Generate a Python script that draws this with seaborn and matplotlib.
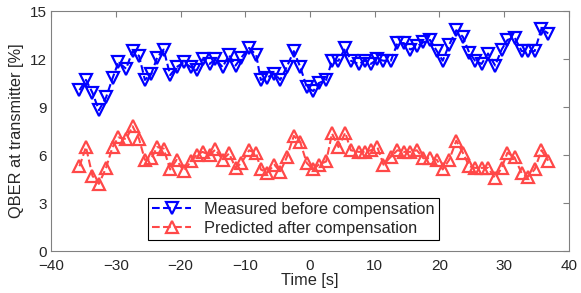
import numpy as np
import pandas as pd
import matplotlib
matplotlib.use("Agg")
import matplotlib.pyplot as plt
import seaborn as sns

# time stamps shared by both series [s]
time_s = [-35.6, -34.6, -33.6, -32.6, -31.5, -30.5, -29.6, -28.4, -27.4, -26.4,
          -25.5, -24.5, -23.6, -22.6, -21.6, -20.6, -19.5, -18.4, -17.5, -16.6,
          -15.5, -14.6, -13.5, -12.5, -11.5, -10.6, -9.4, -8.3, -7.6, -6.6,
          -5.5, -4.6, -3.6, -2.5, -1.5, -0.5, 0.5, 1.35, 2.5, 3.4,
          4.4, 5.45, 6.3, 7.5, 8.5, 9.4, 10.4, 11.35, 12.5, 13.5,
          14.5, 15.5, 16.5, 17.5, 18.55, 19.6, 20.5, 21.5, 22.6, 23.6,
          24.6, 25.5, 26.5, 27.5, 28.6, 29.6, 30.5, 31.6, 32.7, 33.7,
          34.7, 35.75, 36.8]

# QBER measured before compensation [%]
measured = [10.06, 10.7, 9.9, 8.8, 9.6, 10.8, 11.8, 11.4, 12.5, 12.2,
            10.7, 11.1, 12.1, 12.6, 11.0, 11.5, 11.8, 11.5, 11.3, 12.0,
            11.7, 12.0, 11.5, 12.25, 11.6, 12.1, 12.7, 12.25, 10.7, 10.85,
            11.1, 10.7, 11.5, 12.5, 11.5, 10.25, 10.0, 10.5, 10.7, 11.9,
            11.9, 12.7, 11.9, 11.7, 11.9, 11.7, 12.0, 11.9, 11.9, 13.0,
            13.0, 12.6, 12.8, 13.05, 13.2, 12.5, 11.9, 12.9, 13.8, 13.4,
            12.4, 11.9, 11.7, 12.35, 11.6, 12.6, 13.2, 13.35, 12.5, 12.5,
            12.5, 13.9, 13.6]

# QBER predicted after compensation [%]
predicted = [5.3, 6.5, 4.7, 4.2, 5.2, 6.5, 7.1, 7.0, 7.8, 7.0,
             5.7, 5.8, 6.5, 6.4, 5.1, 5.7, 5.0, 5.6, 6.0, 6.2,
             6.0, 6.35, 5.7, 6.1, 5.2, 5.5, 6.3, 6.1, 5.1, 4.9,
             5.4, 4.95, 5.85, 7.2, 6.8, 5.5, 5.1, 5.4, 5.6, 7.35,
             6.5, 7.4, 6.3, 6.2, 6.2, 6.3, 6.5, 5.4, 5.9, 6.3,
             6.2, 6.2, 6.3, 5.8, 5.8, 5.7, 5.1, 5.7, 6.9, 6.15,
             5.3, 5.2, 5.2, 5.2, 4.55, 5.2, 6.15, 5.85, 4.85, 4.65,
             5.1, 6.3, 5.65]

df = pd.DataFrame({"t": time_s, "measured": measured, "predicted": predicted})

sns.set_style("white")
plt.rcParams['font.family'] = ['Liberation Sans', 'DejaVu Sans']
fs = 11.8

fig = plt.figure(figsize=(5.81, 2.93), dpi=100)
ax = fig.add_axes([0.0878, 0.1433, 0.8915, 0.8187])

blue = "#0000FF"
red = "#FF4848"

sns.lineplot(data=df, x="t", y="measured", ax=ax, color=blue, linestyle="--",
             linewidth=1.5, marker="v", markersize=9, markerfacecolor="none",
             markeredgecolor=blue, markeredgewidth=1.6,
             label="Measured before compensation")
sns.lineplot(data=df, x="t", y="predicted", ax=ax, color=red, linestyle="--",
             linewidth=1.5, marker="^", markersize=9, markerfacecolor="none",
             markeredgecolor=red, markeredgewidth=1.6,
             label="Predicted after compensation")

ax.set_xlim(-40, 40)
ax.set_ylim(0, 15)
ax.set_xticks(np.arange(-40, 41, 10))
ax.set_yticks(np.arange(0, 16, 3))
ax.tick_params(direction="in", top=True, right=True, length=4,
               color="#808080", labelsize=11)
ax.tick_params(axis="x", pad=5.5)
ax.tick_params(axis="y", pad=3)
for s in ax.spines.values():
    s.set_color("#808080")
    s.set_linewidth(0.8)
ax.set_xlabel("Time [s]", fontsize=fs, labelpad=0)
ax.set_ylabel("QBER at transmitter [%]", fontsize=fs, labelpad=4)

leg = ax.legend(loc="lower left", bbox_to_anchor=(0.187, 0.045), fontsize=fs,
                fancybox=False, edgecolor="black", framealpha=1,
                handlelength=2.4, borderpad=0.25, labelspacing=0.25,
                borderaxespad=0)
leg.get_frame().set_linewidth(0.8)

fig.savefig("out.png", dpi=100)
